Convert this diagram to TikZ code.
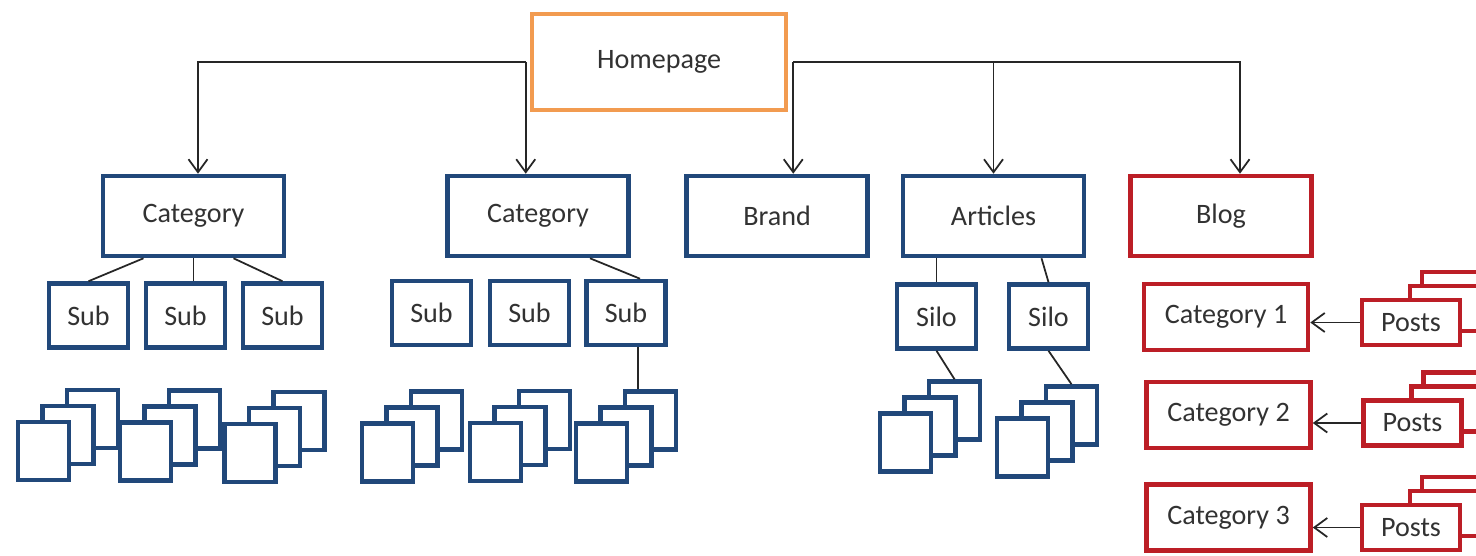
\documentclass[tikz,border=0pt]{standalone}
\usepackage{fontspec}
\setmainfont{Carlito}
\usetikzlibrary{positioning}
\usetikzlibrary{arrows.meta}

\definecolor{homeorange}{RGB}{242,155,80}
\definecolor{boxblue}{RGB}{33,72,122}
\definecolor{blogred}{RGB}{188,30,38}
\definecolor{labelgrey}{RGB}{50,50,50}

\begin{document}
\begin{tikzpicture}[x = 0.02cm, y = -0.02cm,
	every node/.style = {font = \fontsize{16}{19}\selectfont, text = labelgrey},
	box/.style = {draw = boxblue, line width = 2.6pt, fill = white, minimum width = 3.62cm, minimum height = 1.6cm},
	subbox/.style = {box, minimum width = 1.58cm, minimum height = 1.28cm},
	page/.style = {draw = boxblue, line width = 2.6pt, fill = white, minimum width = 1.02cm, minimum height = 1.16cm, inner sep = 0pt},
	redbox/.style = {box, draw = blogred, minimum width = 3.28cm, minimum height = 1.32cm},
	postbox/.style = {redbox, minimum width = 1.96cm, minimum height = 0.9cm},
	link/.style = {black!85, line width = 1pt},
	arrowlink/.style = {link, -{Straight Barb[length = 2.6mm, width = 3.8mm]}}]

	\useasboundingbox (0, 0) rectangle (1476, 555);
	\fill[white] (0, 0) rectangle (1476, 555);
	\clip (0, 0) rectangle (1476, 555);

	\node[box, draw = homeorange, minimum width = 5.08cm, minimum height = 1.92cm] (home) at (659, 62) {Homepage};

	\node[box] (cat1) at (193.5, 216) {Category};
	\node[box] (cat2) at (538, 216) {Category};
	\node[box] (brand) at (777, 216) {Brand};
	\node[box] (art) at (993.5, 216) {Articles};
	\node[box, draw = blogred] (blog) at (1221, 216) {Blog};

	\node[subbox] (sub1) at (88.5, 315.5) {Sub};
	\node[subbox] (sub2) at (185.5, 315.5) {Sub};
	\node[subbox] (sub3) at (282.5, 315.5) {Sub};
	\node[subbox] (sub4) at (431.5, 313) {Sub};
	\node[subbox] (sub5) at (529.5, 313) {Sub};
	\node[subbox] (sub6) at (626, 313) {Sub};
	\node[subbox] (silo1) at (936.5, 316.5) {Silo};
	\node[subbox] (silo2) at (1048.5, 316.5) {Silo};

	\foreach \n/\px/\py in {a/43.5/451, b/145.5/451.5, c/250/453, d/387.5/452.5, e/495.5/452, f/601.5/452.5, g/905.5/442.5, h/1022.5/447.5} {
		\node[page] (stack\n-back) at (\px + 49, \py - 32) {};
		\node[page] (stack\n-mid) at (\px + 24.5, \py - 16) {};
		\node[page] (stack\n-front) at (\px, \py) {};
	}

	\node[redbox] (blogcat1) at (1226, 317) {Category 1};
	\node[redbox] (blogcat2) at (1228.5, 415) {Category 2};
	\node[redbox] (blogcat3) at (1228.5, 517.5) {Category 3};

	\foreach \n/\px/\py in {1/1411/322.5, 2/1412.5/423, 3/1411/527.5} {
		\node[postbox] (posts\n-back) at (\px + 60, \py - 28) {};
		\node[postbox] (posts\n-mid) at (\px + 48, \py - 14) {};
		\node[postbox] (posts\n) at (\px, \py) {Posts};
		\draw[arrowlink] (posts\n.west) -- (posts\n.west -| blogcat\n.east);
	}

	\coordinate (hl) at ([xshift = -0.08cm]home.west);
	\coordinate (hr) at ([xshift = 0.1cm]home.east);
	\draw[arrowlink] (hl) -| ([xshift = 0.09cm]cat1.north);
	\draw[arrowlink] (hl) -- (hl |- cat2.north);
	\draw[arrowlink] (hr) -- (hr |- brand.north);
	\draw[arrowlink] (hr) -| (art.north);
	\draw[arrowlink] (hr) -| ([xshift = 0.38cm]blog.north);

	\draw[link] ([xshift = -1cm]cat1.south) -- (sub1.north);
	\draw[link] (cat1.south) -- (cat1.south |- sub2.north);
	\draw[link] ([xshift = 0.8cm]cat1.south) -- (sub3.north);
	\draw[link] ([xshift = 1.04cm]cat2.south) -- ([xshift = 0.28cm]sub6.north);
	\draw[link] ([xshift = 0.24cm]sub6.south) -- ([xshift = 0.24cm]sub6.south |- stackf-back.north);
	\draw[link] (silo1.north |- art.south) -- (silo1.north);
	\draw[link] ([xshift = -0.14cm]silo2.north |- art.south) -- (silo2.north);
	\draw[link] (silo1.south) -- (stackg-back.north);
	\draw[link] (silo2.south) -- (stackh-back.north);
\end{tikzpicture}
\end{document}
